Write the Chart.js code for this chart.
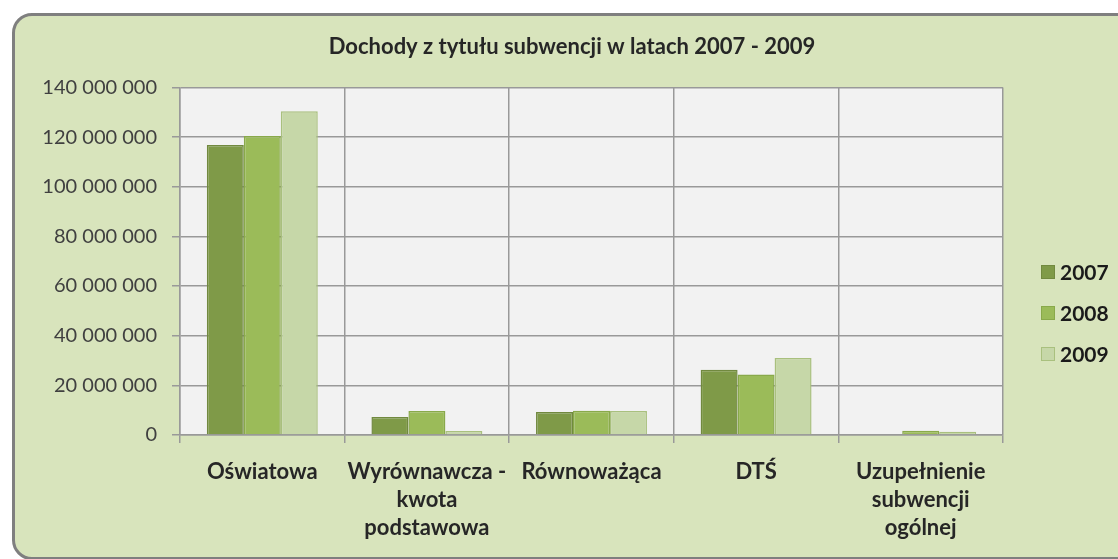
<!DOCTYPE html>
<html>
<head>
<meta charset="utf-8">
<script src="https://cdn.jsdelivr.net/npm/chart.js@4"></script>
<style>
    html, body { margin: 0; padding: 0; background: #ffffff; overflow: hidden; }
    #frame {
        position: absolute; left: 12px; top: 13px; width: 1130px; height: 541px;
        background: #d8e4bc; border: 3px solid #7f7f7f; border-radius: 20px;
    }
    #chart { position: absolute; left: 0; top: 0; }
</style>
</head>
<body>
<div id="frame"></div>
<canvas id="chart" width="1118" height="559"></canvas>
<script>
// Data (PLN)
const categories = [
    'Oświatowa',
    ['Wyrównawcza -', 'kwota', 'podstawowa'],
    'Równoważąca',
    'DTŚ',
    ['Uzupełnienie', 'subwencji', 'ogólnej']
];
const years = ['2007', '2008', '2009'];
const values2007 = [116800000, 7300000, 9300000, 26300000, 0];
const values2008 = [120400000, 9700000, 9800000, 24400000, 1700000];
const values2009 = [130400000, 1600000, 9700000, 31000000, 1300000];
const yTicks = [0, 20000000, 40000000, 60000000, 80000000, 100000000, 120000000, 140000000];

const fills = ['#7f9a48', '#9bbb59', '#c6d7a8'];
const borders = ['#71893f', '#89a94a', '#a9c07e'];
const font = 'Lato, "Open Sans", sans-serif';

const fmt = v => String(v).replace(/\B(?=(\d{3})+(?!\d))/g, ' ');

// Light grey plot area behind the bars
const plotBackground = {
    id: 'plotBackground',
    beforeDraw(chart) {
        const { ctx, chartArea: a } = chart;
        ctx.save();
        ctx.fillStyle = '#f2f2f2';
        ctx.fillRect(a.left, a.top, a.right - a.left, a.bottom - a.top);
        ctx.restore();
    }
};

// Legend to the right of the plot, like the Excel original
const sideLegend = {
    id: 'sideLegend',
    afterDraw(chart) {
        const { ctx, chartArea: a } = chart;
        ctx.save();
        ctx.font = 'bold 21px ' + font;
        ctx.textBaseline = 'middle';
        chart.data.datasets.forEach((ds, i) => {
            const x = a.right + 38;
            const y = 272 + i * 41;
            ctx.fillStyle = ds.backgroundColor;
            ctx.fillRect(x, y - 7, 14, 14);
            ctx.strokeStyle = ds.borderColor;
            ctx.lineWidth = 1;
            ctx.strokeRect(x + 0.5, y - 6.5, 13, 13);
            ctx.fillStyle = '#1a1a1a';
            ctx.fillText(ds.label, x + 19, y + 1);
        });
        ctx.restore();
    }
};

const series = [values2007, values2008, values2009];

new Chart(document.getElementById('chart'), {
    type: 'bar',
    plugins: [plotBackground, sideLegend],
    data: {
        labels: categories,
        datasets: series.map((vals, i) => ({
            label: years[i],
            data: vals,
            backgroundColor: fills[i],
            borderColor: borders[i],
            borderWidth: 1.5,
            borderSkipped: 'bottom',
            categoryPercentage: 0.674,
            barPercentage: 1.0
        }))
    },
    options: {
        responsive: false,
        animation: false,
        devicePixelRatio: 1,
        layout: { padding: { left: 26, right: 0, top: 0, bottom: 0 } },
        plugins: {
            legend: { display: false },
            tooltip: { enabled: false },
            title: {
                display: true,
                text: 'Dochody z tytułu subwencji w latach 2007 - 2009',
                color: '#262626',
                font: { family: font, size: 22, weight: 'bold', lineHeight: 1.2 },
                padding: { top: 34, bottom: 27 }
            }
        },
        scales: {
            x: {
                afterFit(scale) { scale.height = 124; },
                grid: { color: '#999999', lineWidth: 1.5, tickLength: 8, offset: true },
                border: { color: '#999999', width: 1.5 },
                ticks: {
                    color: '#262626',
                    padding: 15,
                    maxRotation: 0,
                    autoSkip: false,
                    font: { family: font, size: 22, weight: 'bold', lineHeight: '28px' }
                }
            },
            y: {
                min: 0,
                max: 140000000,
                afterFit(scale) { scale.width = 154; },
                afterBuildTicks(scale) { scale.ticks = yTicks.map(v => ({ value: v })); },
                grid: { color: '#999999', lineWidth: 1.5, tickLength: 8 },
                border: { color: '#999999', width: 1.5 },
                ticks: {
                    color: '#404040',
                    padding: 15,
                    font: { family: font, size: 20 },
                    callback: v => fmt(v)
                }
            },
            // empty axis that only reserves room for the legend on the right
            legendSpace: {
                position: 'right',
                min: 0,
                max: 140000000,
                afterFit(scale) { scale.width = 115; },
                grid: { display: false },
                border: { display: false },
                ticks: { display: false }
            }
        }
    }
});
</script>
</body>
</html>
